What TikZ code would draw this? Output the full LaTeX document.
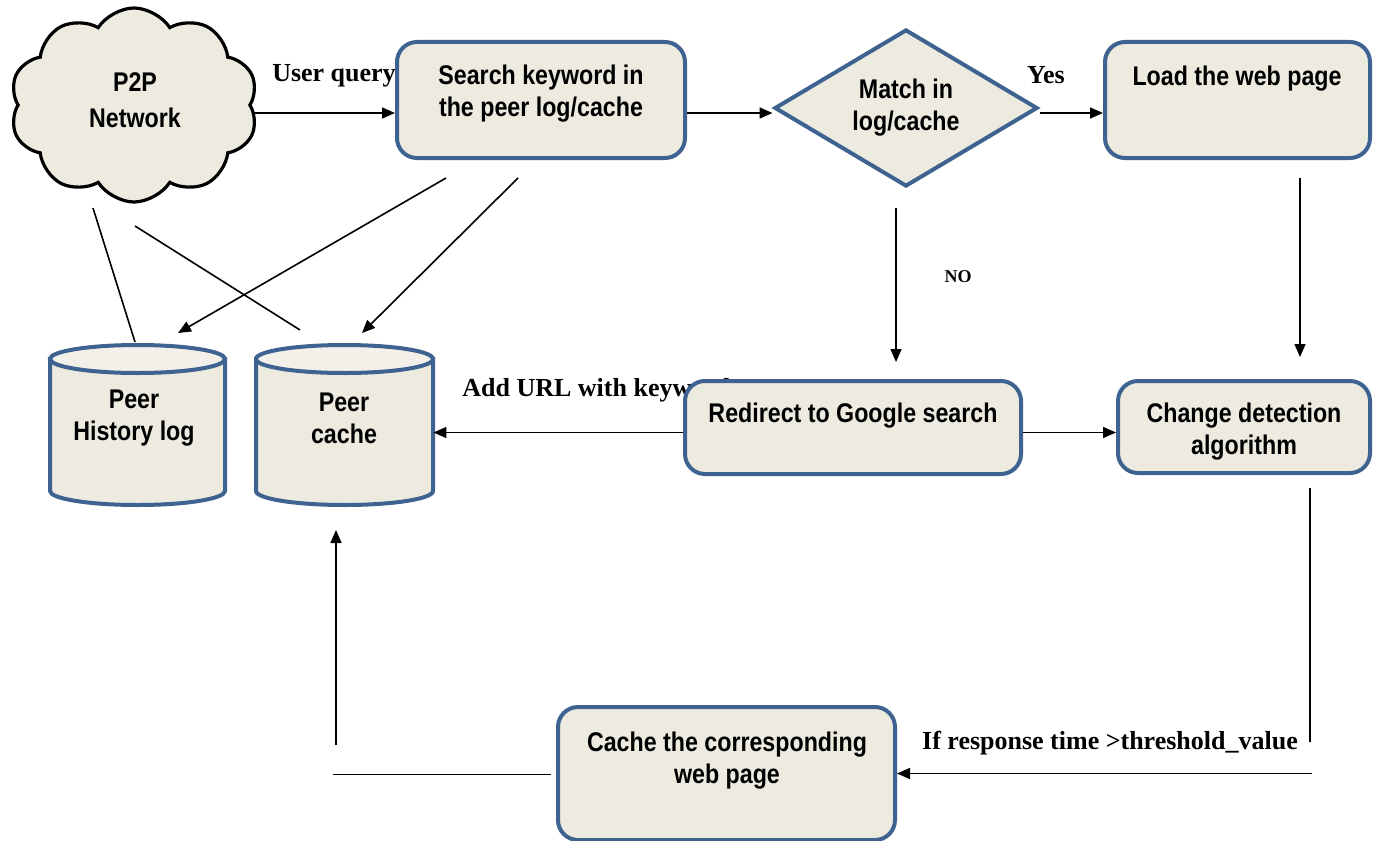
\documentclass[tikz,border=0pt]{standalone}
\usepackage{fontspec}
\newfontfamily\narrow[FakeStretch=0.86]{Liberation Sans}
\newfontfamily\serifb{Liberation Serif}
\usetikzlibrary{shapes.symbols,shapes.geometric,arrows.meta,calc}
\definecolor{bordblue}{HTML}{3E6391}
\definecolor{boxfill}{HTML}{EDEBE0}
\definecolor{topfill}{HTML}{F2F0E9}
\begin{document}
\begin{tikzpicture}[x=0.5pt,y=-0.5pt,
  box/.style={draw=bordblue, line width=2pt, fill=boxfill, rounded corners=10pt, inner sep=0},
  lbl/.style={font=\narrow\bfseries\fontsize{13.5}{16}\selectfont, align=center, inner sep=0},
  slbl/.style={font=\serifb\bfseries\fontsize{13}{15}\selectfont, inner sep=0},
  arr/.style={line width=0.8pt, -{Triangle[length=6.5pt,width=5.5pt]}},
  ln/.style={line width=0.8pt},
  cyl/.style={draw=bordblue, line width=2pt, fill=boxfill}]
\useasboundingbox (0,0) rectangle (1375,840);

% cloud
\node[cloud, cloud puffs=10, cloud puff arc=115, aspect=1.3, draw=black, line width=1.6pt,
      fill=boxfill, minimum width=124pt, minimum height=97pt, inner sep=0] (cloud) at (134,105) {};
\node[lbl] (cloudT) at (135,100) {P2P\\[2pt]Network};

% boxes
\node[box, minimum width=144pt, minimum height=58pt] (search) at (541,100) {};
\node[lbl] (searchT) at (541,94) {Search keyword in\\the peer log/cache};

\node[diamond, draw=bordblue, line width=2pt, fill=boxfill, inner sep=0,
      minimum width=131.5pt, minimum height=78.5pt] (match) at (906,108) {};
\node[lbl] (matchT) at (906,108) {Match in\\log/cache};

\node[box, minimum width=132.5pt, minimum height=58pt] (load) at (1237.5,100) {};
\node[lbl] (loadT) at (1237,79) {Load the web page};

% label partially covered by redirect box
\node[slbl, anchor=west] (addT) at (462,390) {Add URL with keywords};

\node[box, minimum width=168pt, minimum height=46.5pt] (redir) at (853,427.5) {};
\node[lbl] (redirT) at (853,416) {Redirect to Google search};

\node[box, minimum width=126pt, minimum height=46pt] (change) at (1244,427) {};
\node[lbl] (changeT) at (1244,432) {Change detection\\algorithm};

\node[box, minimum width=168.5pt, minimum height=66.5pt] (cache) at (726.5,773.5) {};
\node[lbl] (cacheT) at (727,761) {Cache the corresponding\\web page};

% cylinders
\path[cyl] (50,359) -- (50,491) arc[start angle=180, end angle=360, x radius=43.75pt, y radius=7pt]
  -- (225,359) -- cycle;
\path[cyl, fill=topfill] (137.5,359) ellipse[x radius=43.75pt, y radius=7pt];
\node[minimum width=87.5pt, minimum height=80pt, inner sep=0] (hist) at (137.5,425) {};
\node[lbl] (histT) at (134,418) {Peer\\History log};

\path[cyl] (256,359) -- (256,491) arc[start angle=180, end angle=360, x radius=44.25pt, y radius=7pt]
  -- (433,359) -- cycle;
\path[cyl, fill=topfill] (344.5,359) ellipse[x radius=44.25pt, y radius=7pt];
\node[minimum width=88.5pt, minimum height=80pt, inner sep=0] (pcache) at (344.5,425) {};
\node[lbl] (pcacheT) at (344,418) {Peer\\cache};

% labels
\node[slbl] (uq) at (334,76) {User query};
\node[slbl] (yes) at (1046,75) {Yes};
\node[font=\serifb\bfseries\fontsize{9}{11}\selectfont, inner sep=0] (no) at (958,277) {NO};
\node[slbl] (ifT) at (1110,743) {If response time >threshold\_value};

% connectors
\coordinate (q1) at ($(search.west)+(0,13)$);
\draw[arr] (q1 -| cloud.east) -- (q1);
\coordinate (q2) at ($(search.east)+(0,13)$);
\draw[arr] (q2) -- (q2 -| match.west);
\coordinate (q3) at ($(match.east)+(0,5)$);
\draw[arr] (q3) -- (q3 -| load.west);

\coordinate (l1) at (1300,178);
\coordinate (l2) at (1300,357);
\draw[arr] (l1) -- (l2);

\coordinate (m1) at (896,208);
\coordinate (m2) at (896,362);
\draw[arr] (m1) -- (m2);

\coordinate (r1) at ($(redir.east)+(0,5)$);
\draw[arr] (r1) -- (r1 -| change.west);
\coordinate (r2) at ($(redir.west)+(0,5)$);
\draw[arr] (r2) -- (r2 -| pcache.east);

\coordinate (s1) at (446,178);
\coordinate (s2) at (518,178);
\coordinate (h1) at (178,333);
\coordinate (p1) at (362,333);
\draw[arr] (s1) -- (h1);
\draw[arr] (s2) -- (p1);

\coordinate (c1) at (93,208);
\coordinate (c2) at (135,342);
\coordinate (c3) at (135,226);
\coordinate (c4) at (300,330);
\draw[ln] (c1) -- (c2);
\draw[ln] (c3) -- (c4);

\coordinate (d1) at (1310,488);
\coordinate (d2) at (1310,742);
\draw[ln] (d1) -- (d2);
\coordinate (d3) at ($(cache.east)+(415,0)$);
\draw[arr] (d3) -- (cache.east);

\coordinate (e1) at ($(cache.west)+(-5,1)$);
\coordinate (e2) at (333,774.5);
\draw[ln] (e1) -- (e2);
\coordinate (e3) at (336,745);
\coordinate (e4) at (336,530);
\draw[arr] (e3) -- (e4);
\end{tikzpicture}
\end{document}
